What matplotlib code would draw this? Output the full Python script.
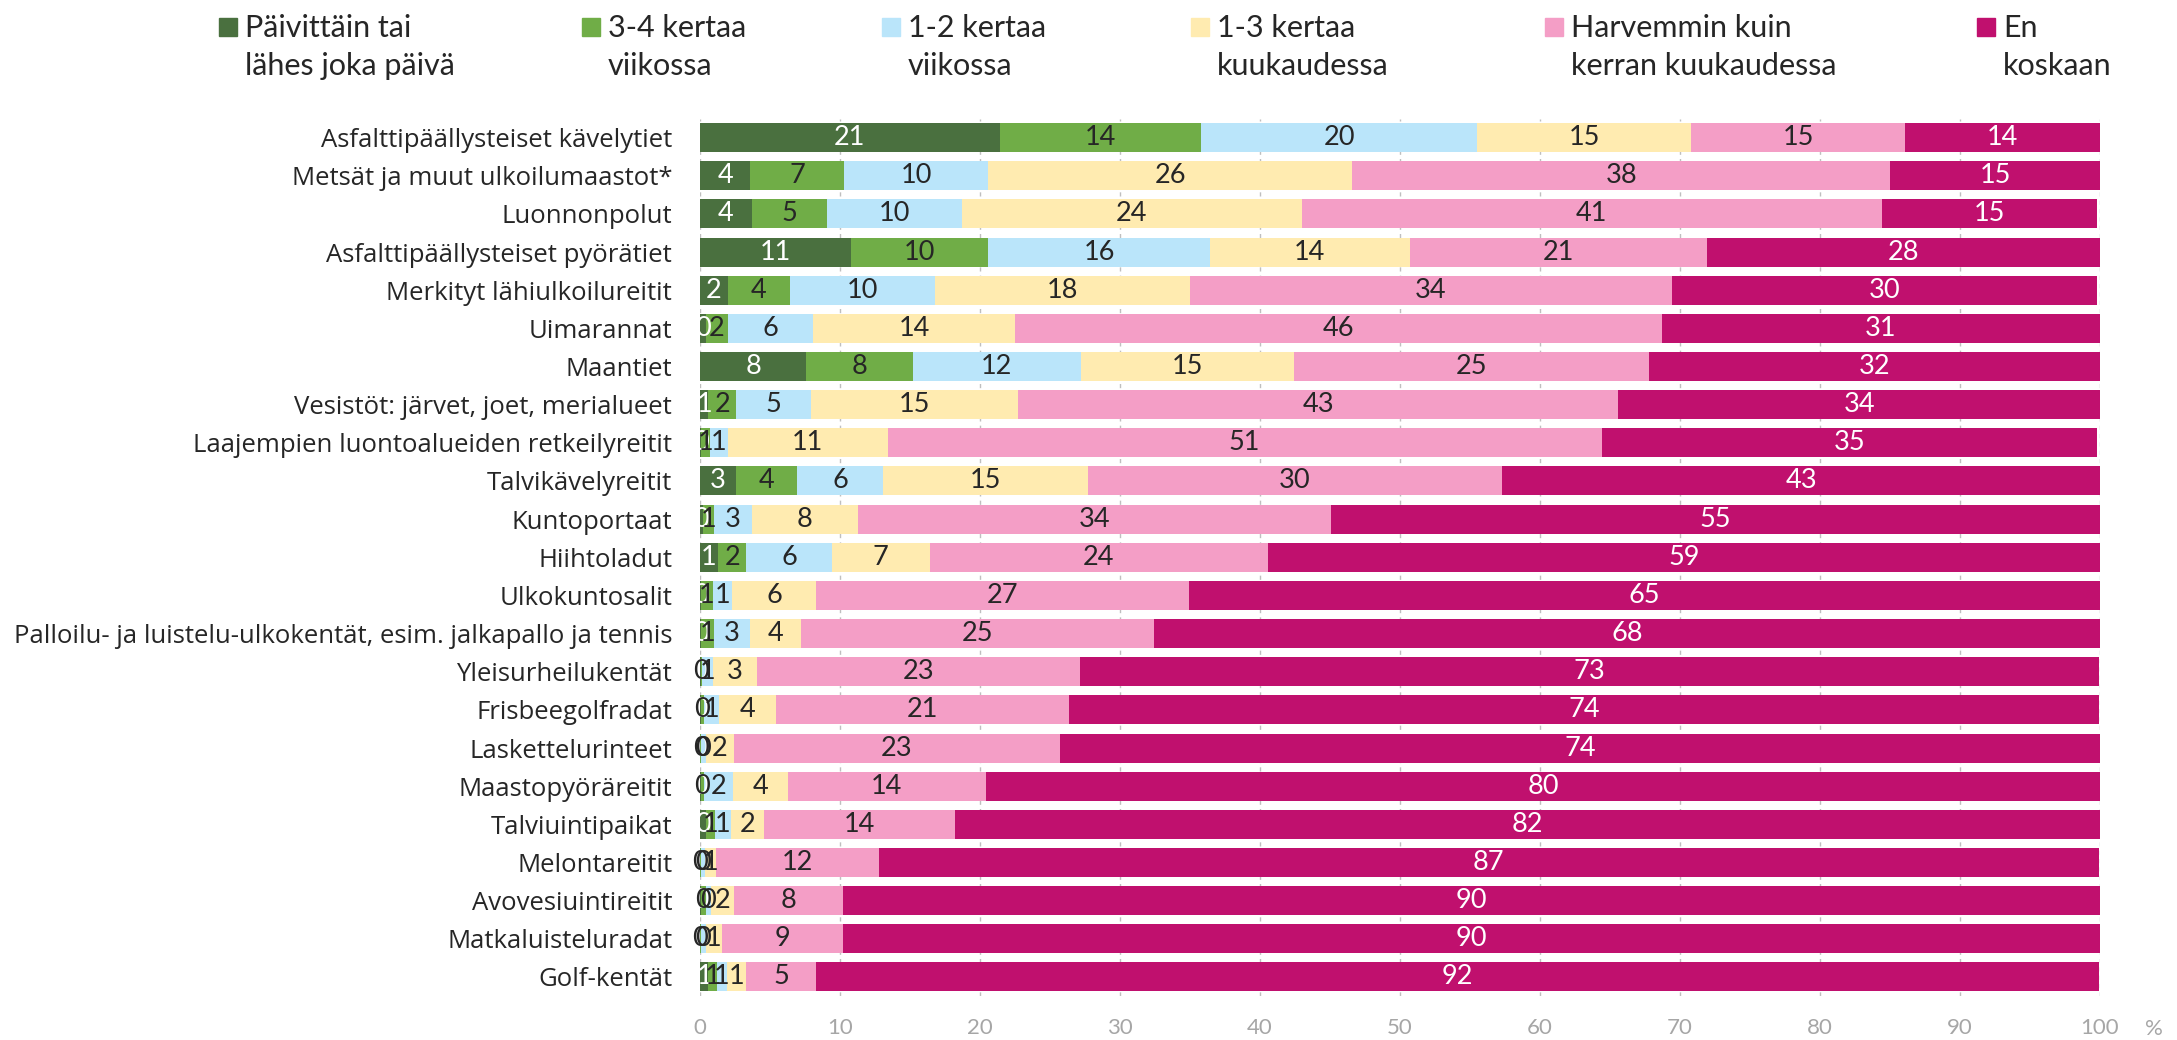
import numpy as np
import matplotlib.pyplot as plt
from matplotlib.patches import Rectangle

# ---------------- data (%) ----------------
categories = [
    'Asfalttipäällysteiset kävelytiet',
    'Metsät ja muut ulkoilumaastot*',
    'Luonnonpolut',
    'Asfalttipäällysteiset pyörätiet',
    'Merkityt lähiulkoilureitit',
    'Uimarannat',
    'Maantiet',
    'Vesistöt: järvet, joet, merialueet',
    'Laajempien luontoalueiden retkeilyreitit',
    'Talvikävelyreitit',
    'Kuntoportaat',
    'Hiihtoladut',
    'Ulkokuntosalit',
    'Palloilu- ja luistelu-ulkokentät, esim. jalkapallo ja tennis',
    'Yleisurheilukentät',
    'Frisbeegolfradat',
    'Laskettelurinteet',
    'Maastopyöräreitit',
    'Talviuintipaikat',
    'Melontareitit',
    'Avovesiuintireitit',
    'Matkaluisteluradat',
    'Golf-kentät',
]

paivittain = [21.4, 3.6, 3.7, 10.8, 2.0, 0.4, 7.6, 0.6, 0.1, 2.6, 0.2, 1.3,
              0.1, 0.1, 0.05, 0.05, 0.0, 0.05, 0.4, 0.0, 0.1, 0.0, 0.6]
kerta_34_vk = [14.4, 6.7, 5.4, 9.8, 4.4, 1.6, 7.6, 2.0, 0.6, 4.3, 0.8, 2.0,
               0.8, 0.9, 0.1, 0.2, 0.1, 0.2, 0.7, 0.05, 0.3, 0.05, 0.6]
kerta_12_vk = [19.7, 10.3, 9.6, 15.8, 10.4, 6.1, 12.0, 5.3, 1.3, 6.2, 2.7, 6.1,
               1.4, 2.6, 0.8, 1.1, 0.3, 2.1, 1.1, 0.3, 0.4, 0.35, 0.7]
kerta_13_kk = [15.3, 26.0, 24.3, 14.3, 18.2, 14.4, 15.2, 14.8, 11.4, 14.6, 7.6, 7.0,
               6.0, 3.6, 3.1, 4.1, 2.0, 3.9, 2.4, 0.8, 1.6, 1.2, 1.4]
harvemmin = [15.3, 38.4, 41.4, 21.2, 34.4, 46.2, 25.4, 42.9, 51.0, 29.6, 33.8, 24.2,
             26.6, 25.2, 23.1, 20.9, 23.3, 14.2, 13.6, 11.6, 7.8, 8.6, 5.0]
ei_koskaan = [13.9, 15.0, 15.4, 28.1, 30.4, 31.3, 32.2, 34.4, 35.4, 42.8, 54.9, 59.4,
              65.1, 67.6, 72.8, 73.6, 74.3, 79.6, 81.8, 87.2, 89.8, 89.8, 91.6]

series = [paivittain, kerta_34_vk, kerta_12_vk, kerta_13_kk, harvemmin, ei_koskaan]
series_names = ['Päivittäin tai\nlähes joka päivä', '3-4 kertaa\nviikossa',
                '1-2 kertaa\nviikossa', '1-3 kertaa\nkuukaudessa',
                'Harvemmin kuin\nkerran kuukaudessa', 'En\nkoskaan']

colors = ['#4A703F', '#70AD47', '#BAE5FA', '#FFEBB0', '#F49EC6', '#C0106E']
label_colors = ['white', '#262626', '#262626', '#262626', '#262626', 'white']

W, H = 2177, 1040

# ---------------- plotting ----------------
fig = plt.figure(figsize=(W / 100, H / 100), dpi=100)
ax = fig.add_axes([700 / W, 1 - 996 / H, 1400 / W, (996 - 118.5) / H])

y = np.arange(len(categories))
left = np.zeros(len(categories))
for vals, c, tc in zip(series, colors, label_colors):
    vals = np.array(vals)
    bars = ax.barh(y, vals, left=left, height=0.76, color=c, zorder=2)
    ax.bar_label(bars, labels=[f'{v:.0f}' for v in vals], label_type='center',
                 color=tc, fontsize=19.5, family='Lato')
    left += vals

ax.set_xlim(0, 100)
ax.set_ylim(len(categories) - 0.5, -0.5)
ax.set_xticks(range(0, 101, 10))
ax.set_yticks(y, categories)
ax.xaxis.grid(True, linestyle=(0, (3, 3)), color='#BFBFBF', lw=1, zorder=0)
ax.set_axisbelow(True)
for s in ax.spines.values():
    s.set_visible(False)

ax.tick_params(axis='y', length=0, pad=20, labelsize=18.5, labelcolor='#262626')
for lab in ax.get_yticklabels():
    lab.set_family('Open Sans')
ax.tick_params(axis='x', length=0, pad=16, labelsize=16, labelcolor='#A6A6A6')
for lab in ax.get_xticklabels():
    lab.set_family('Lato')

fig.text(2154 / W, 1 - 1029 / H, '%', ha='center', va='center',
         color='#A6A6A6', fontsize=16, family='Lato')

# legend, one row of entries with two-line texts
legend_x = [219, 582, 882, 1191, 1545, 1977]
for lx, name, c in zip(legend_x, series_names, colors):
    fig.patches.append(Rectangle((lx / W, 1 - 36 / H), 18 / W, 18 / H,
                                 transform=fig.transFigure, color=c))
    fig.text((lx + 26) / W, 1 - 14 / H, name, ha='left', va='top',
             fontsize=22, family='Lato', color='#262626', linespacing=1.45)

fig.savefig('out.png', dpi=100)
